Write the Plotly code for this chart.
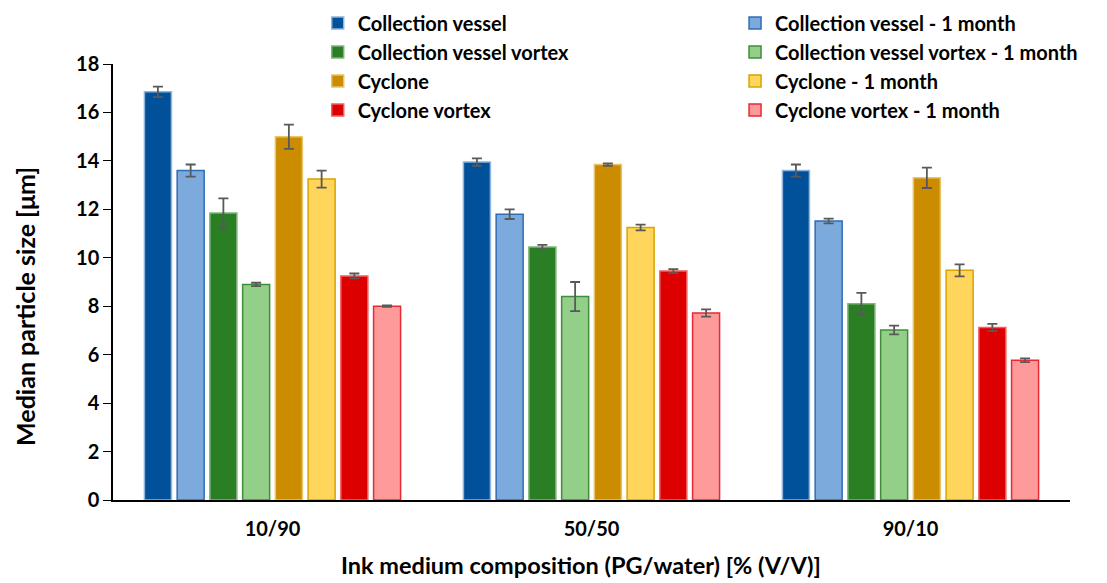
import plotly.graph_objects as go

compositions = ["10/90", "50/50", "90/10"]

series_names = [
    "Collection vessel",
    "Collection vessel - 1 month",
    "Collection vessel vortex",
    "Collection vessel vortex - 1 month",
    "Cyclone",
    "Cyclone - 1 month",
    "Cyclone vortex",
    "Cyclone vortex - 1 month",
]

x_title = "Ink medium composition (PG/water) [% (V/V)]"
y_title = "Median particle size [μm]"

# median particle size [µm] per composition
collection_vessel = [16.85, 13.95, 13.60]
collection_vessel_1m = [13.60, 11.80, 11.52]
collection_vessel_vortex = [11.85, 10.45, 8.10]
collection_vessel_vortex_1m = [8.90, 8.40, 7.02]
cyclone = [15.00, 13.85, 13.30]
cyclone_1m = [13.25, 11.25, 9.48]
cyclone_vortex = [9.25, 9.45, 7.12]
cyclone_vortex_1m = [8.00, 7.72, 5.77]

# standard deviations
collection_vessel_err = [0.22, 0.15, 0.25]
collection_vessel_1m_err = [0.25, 0.20, 0.10]
collection_vessel_vortex_err = [0.60, 0.08, 0.45]
collection_vessel_vortex_1m_err = [0.07, 0.60, 0.18]
cyclone_err = [0.50, 0.05, 0.42]
cyclone_1m_err = [0.35, 0.12, 0.25]
cyclone_vortex_err = [0.10, 0.08, 0.15]
cyclone_vortex_1m_err = [0.03, 0.15, 0.08]

values = [collection_vessel, collection_vessel_1m, collection_vessel_vortex,
          collection_vessel_vortex_1m, cyclone, cyclone_1m, cyclone_vortex,
          cyclone_vortex_1m]
errors = [collection_vessel_err, collection_vessel_1m_err, collection_vessel_vortex_err,
          collection_vessel_vortex_1m_err, cyclone_err, cyclone_1m_err,
          cyclone_vortex_err, cyclone_vortex_1m_err]

fill_colors = ["#005199", "#7DAADC", "#2A7F25", "#93CF89",
               "#CC8C00", "#FFD55C", "#DD0000", "#FF9A9A"]
edge_colors = ["#8FB4DD", "#2F6DB5", "#7FB57A", "#3F8F3A",
               "#E8C46A", "#D9A300", "#F06060", "#E82A32"]

FONT = "Lato"
legend_font = dict(family=FONT, size=20, color="black", weight="bold")

fig = go.Figure()
for i, (name, vals, errs, fc, ec) in enumerate(
        zip(series_names, values, errors, fill_colors, edge_colors)):
    fig.add_trace(go.Bar(
        name=name,
        x=compositions,
        y=vals,
        # fresh samples in the left legend column, 1-month samples in the right one
        legend="legend" if i % 2 == 0 else "legend2",
        marker=dict(color=fc, line=dict(color=ec, width=1.5)),
        error_y=dict(type="data", array=errs, visible=True,
                     color="#595959", thickness=1.8, width=5),
    ))

fig.update_layout(
    width=1107,
    height=583,
    margin=dict(l=113, r=37, t=64, b=83, autoexpand=False),
    paper_bgcolor="white",
    plot_bgcolor="white",
    barmode="group",
    bargap=0.179,
    bargroupgap=0.175,
    font=dict(family=FONT, color="black"),
    showlegend=True,
    legend=dict(
        xref="container", yref="container",
        x=0.287, xanchor="left", y=0.994, yanchor="top",
        font=legend_font, tracegroupgap=0, bgcolor="rgba(0,0,0,0)",
    ),
    legend2=dict(
        xref="container", yref="container",
        x=0.664, xanchor="left", y=0.994, yanchor="top",
        font=legend_font, tracegroupgap=0, bgcolor="rgba(0,0,0,0)",
    ),
    xaxis=dict(
        showline=True, linecolor="black", linewidth=1.5,
        ticks="", showgrid=False, ticklabelstandoff=10,
        tickfont=dict(family=FONT, size=20, weight="bold"),
    ),
    yaxis=dict(
        range=[0, 18], dtick=2,
        showline=True, linecolor="black", linewidth=1.5,
        ticks="outside", ticklen=8, tickwidth=1.3, tickcolor="black",
        showgrid=False, zeroline=False,
        tickfont=dict(family=FONT, size=20, weight="bold"),
    ),
    # companion axis supplying the inner half of each y tick
    yaxis2=dict(
        range=[0, 18], dtick=2, overlaying="y", anchor="x", side="left",
        ticks="inside", ticklen=6, tickwidth=1.3, tickcolor="black",
        showticklabels=False, showgrid=False, zeroline=False, showline=False,
    ),
    annotations=[
        dict(text=x_title, xref="paper", yref="paper",
             x=0.489, y=-0.149, xanchor="center", yanchor="middle",
             showarrow=False,
             font=dict(family=FONT, size=23.5, weight="bold", color="black")),
        dict(text=y_title, xref="paper", yref="paper",
             x=-0.092, y=0.445, xanchor="center", yanchor="middle",
             textangle=-90, showarrow=False,
             font=dict(family=FONT, size=25, weight="bold", color="black")),
    ],
)

fig.write_html("out.html")
